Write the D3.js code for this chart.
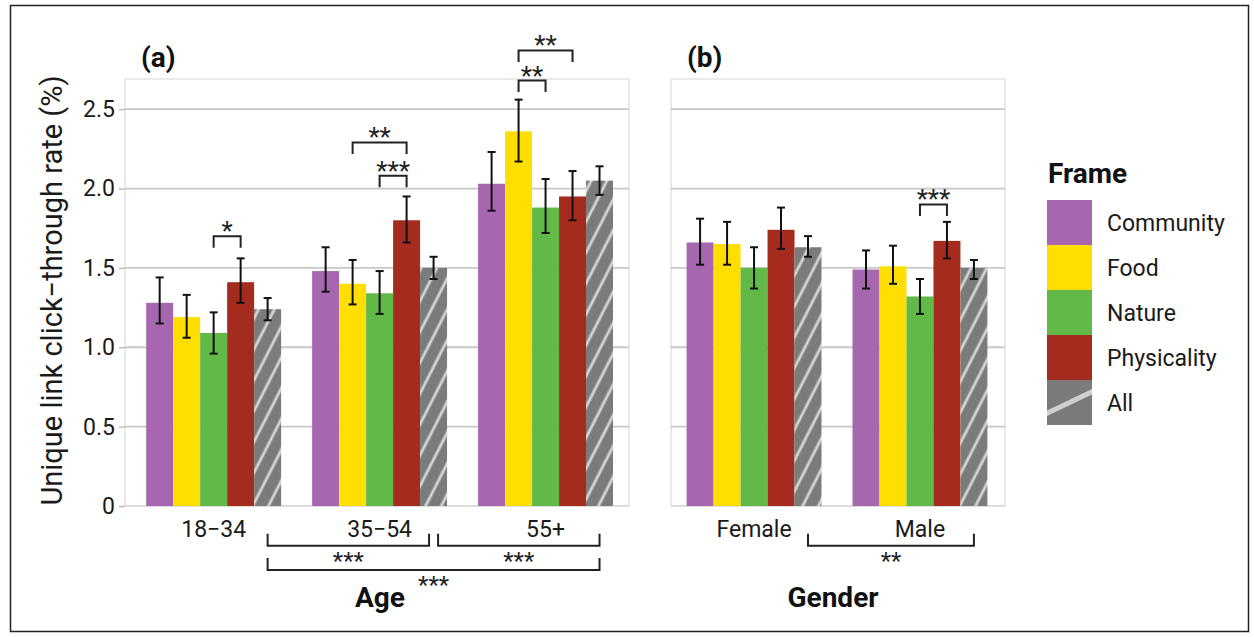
<!DOCTYPE html>
<html><head><meta charset="utf-8">
<script src="https://cdn.jsdelivr.net/npm/d3@7"></script>
<style>
body{margin:0;background:#fff;}
svg{display:block;font-family:Roboto,"Noto Sans",sans-serif;}
</style></head><body>
<svg id="chart" width="1254" height="637"></svg>
<script>
// ---- data ----
const frames = ["Community", "Food", "Nature", "Physicality", "All"];
const frameColors = ["#a667b0", "#ffde00", "#62b947", "#a62b1f", "#7b7b7b"];

const ageGroups = ["18−34", "35−54", "55+"];
const ageMeans = [
  [1.28, 1.19, 1.09, 1.41, 1.24],
  [1.48, 1.40, 1.34, 1.80, 1.50],
  [2.03, 2.36, 1.88, 1.95, 2.05]
];
const ageLower = [
  [1.15, 1.06, 0.96, 1.28, 1.17],
  [1.35, 1.27, 1.21, 1.66, 1.43],
  [1.86, 2.17, 1.72, 1.80, 1.96]
];
const ageUpper = [
  [1.44, 1.33, 1.22, 1.56, 1.31],
  [1.63, 1.55, 1.48, 1.95, 1.57],
  [2.23, 2.56, 2.06, 2.11, 2.14]
];

const genderGroups = ["Female", "Male"];
const genderMeans = [
  [1.66, 1.65, 1.50, 1.74, 1.63],
  [1.49, 1.51, 1.32, 1.67, 1.50]
];
const genderLower = [
  [1.52, 1.52, 1.37, 1.62, 1.57],
  [1.37, 1.40, 1.21, 1.56, 1.43]
];
const genderUpper = [
  [1.81, 1.79, 1.63, 1.88, 1.70],
  [1.61, 1.64, 1.43, 1.79, 1.55]
];

const yTicks = [0, 0.5, 1.0, 1.5, 2.0, 2.5];

// pairwise frame comparisons inside a group
const ageBrackets = [
  {group: "18−34", from: "Nature", to: "Physicality", level: 1.70, label: "*"},
  {group: "35−54", from: "Food", to: "Physicality", level: 2.29, label: "**"},
  {group: "35−54", from: "Nature", to: "Physicality", level: 2.08, label: "***"},
  {group: "55+", from: "Food", to: "Nature", level: 2.68, label: "**"},
  {group: "55+", from: "Food", to: "Physicality", level: 2.87, label: "**"}
];
const genderBrackets = [
  {group: "Male", from: "Nature", to: "Physicality", level: 1.90, label: "***"}
];
// comparisons between groups (drawn under the axis)
const ageGroupBrackets = [
  {from: "18−34", to: "35−54", row: 0, label: "***"},
  {from: "35−54", to: "55+", row: 0, label: "***"},
  {from: "18−34", to: "55+", row: 1, label: "***"}
];
const genderGroupBrackets = [
  {from: "Female", to: "Male", row: 0, label: "**"}
];

// ---- layout ----
const svg = d3.select("#chart");
const plotTop = 79, plotBottom = 506;
const y = d3.scaleLinear().domain([0, 2.69]).range([plotBottom, plotTop]);
const color = d3.scaleOrdinal().domain(frames).range(frameColors);

const defs = svg.append("defs");
const pat = defs.append("pattern").attr("id", "stripes")
  .attr("patternUnits", "userSpaceOnUse").attr("width", 14).attr("height", 14)
  .attr("patternTransform", "rotate(27)");
pat.append("rect").attr("width", 14).attr("height", 14).attr("fill", "#7b7b7b");
pat.append("rect").attr("x", 5.5).attr("width", 2.8).attr("height", 14).attr("fill", "#d4d4d4");

// outer frame
svg.append("rect").attr("x", 10.5).attr("y", 5.5).attr("width", 1238).attr("height", 626)
  .attr("fill", "none").attr("stroke", "#222").attr("stroke-width", 1.5);

function fillFor(f) { return f === "All" ? "url(#stripes)" : color(f); }

function panel(opts) {
  const {x0, x1, groups, means, lower, upper, brackets, groupBrackets, tag, title, pOuter, align, yAxis} = opts;
  const x = d3.scaleBand().domain(groups).range([x0, x1])
    .paddingInner(0.187).paddingOuter(pOuter).align(align);
  const xi = d3.scaleBand().domain(frames).range([0, x.bandwidth()]);
  const g = svg.append("g");

  // background border & grid
  g.append("rect").attr("x", x0).attr("y", plotTop).attr("width", x1 - x0).attr("height", plotBottom - plotTop)
    .attr("fill", "#fff").attr("stroke", "#dcdcdc").attr("stroke-width", 1.2);
  g.selectAll("line.grid").data(yTicks.filter(d => d > 0)).join("line").attr("class", "grid")
    .attr("x1", x0).attr("x2", x1).attr("y1", d => y(d)).attr("y2", d => y(d))
    .attr("stroke", "#c8c8c8").attr("stroke-width", 1.8);
  g.append("line").attr("x1", x0).attr("x2", x1).attr("y1", plotBottom).attr("y2", plotBottom)
    .attr("stroke", "#d0d0d0").attr("stroke-width", 1.2);

  if (yAxis) {
    const ax = g.append("g").attr("transform", `translate(${x0},0)`)
      .call(d3.axisLeft(y).tickValues(yTicks).tickSize(6).tickPadding(4)
        .tickFormat(d => d === 0 ? "0" : d3.format(".1f")(d)));
    ax.select(".domain").remove();
    ax.selectAll(".tick line").attr("stroke", "#bdbdbd").attr("stroke-width", 1.5);
    ax.selectAll(".tick text").attr("font-size", 23).attr("fill", "#1a1a1a")
      .attr("font-family", "Roboto, sans-serif");
  }

  const rows = [];
  groups.forEach((grp, gi) => frames.forEach((f, fi) => rows.push({
    grp, f, m: means[gi][fi], lo: lower[gi][fi], hi: upper[gi][fi]
  })));
  const cx = d => x(d.grp) + xi(d.f) + xi.bandwidth() / 2;

  g.selectAll("rect.bar").data(rows).join("rect").attr("class", "bar")
    .attr("x", d => x(d.grp) + xi(d.f)).attr("width", xi.bandwidth())
    .attr("y", d => y(d.m)).attr("height", d => y(0) - y(d.m))
    .attr("fill", d => fillFor(d.f));

  // error bars
  const eb = g.selectAll("g.err").data(rows).join("g").attr("class", "err")
    .attr("stroke", "#111").attr("stroke-width", 2);
  eb.append("line").attr("x1", cx).attr("x2", cx).attr("y1", d => y(d.lo)).attr("y2", d => y(d.hi));
  eb.append("line").attr("x1", d => cx(d) - 4).attr("x2", d => cx(d) + 4).attr("y1", d => y(d.lo)).attr("y2", d => y(d.lo));
  eb.append("line").attr("x1", d => cx(d) - 4).attr("x2", d => cx(d) + 4).attr("y1", d => y(d.hi)).attr("y2", d => y(d.hi));

  // within-group significance brackets
  brackets.forEach(b => {
    const xa = x(b.group) + xi(b.from) + xi.bandwidth() / 2;
    const xb = x(b.group) + xi(b.to) + xi.bandwidth() / 2;
    const yy = y(b.level);
    g.append("path").attr("d", `M${xa},${yy + 11.5}V${yy}H${xb}V${yy + 11.5}`)
      .attr("fill", "none").attr("stroke", "#222").attr("stroke-width", 2);
    g.append("text").attr("x", (xa + xb) / 2).attr("y", yy + 4).attr("text-anchor", "middle")
      .attr("font-size", 26).attr("fill", "#222").text(b.label);
  });

  // x tick labels
  g.selectAll("text.xt").data(groups).join("text").attr("class", "xt")
    .attr("x", d => x(d) + x.bandwidth() / 2).attr("y", 537).attr("text-anchor", "middle")
    .attr("font-size", 23).attr("fill", "#1a1a1a").text(d => d);

  // between-group brackets under the axis
  const allC = grp => x(grp) + xi("All") + xi.bandwidth() / 2;
  const rowY = [545.7, 570];
  groupBrackets.forEach(b => {
    let xa = allC(b.from), xb = allC(b.to);
    if (groupBrackets.some(o => o !== b && o.row === b.row && o.from === b.to)) xb -= 4.5;
    if (groupBrackets.some(o => o !== b && o.row === b.row && o.to === b.from)) xa += 4.5;
    const yy = rowY[b.row];
    g.append("path").attr("d", `M${xa},${yy - 12}V${yy}H${xb}V${yy - 12}`)
      .attr("fill", "none").attr("stroke", "#222").attr("stroke-width", 2);
    g.append("text").attr("x", (xa + xb) / 2).attr("y", yy + 23).attr("text-anchor", "middle")
      .attr("font-size", 24).attr("fill", "#222").text(b.label);
  });

  // panel tag & axis title
  g.append("text").attr("x", x0 + 16).attr("y", 67).attr("font-size", 28).attr("font-weight", "bold")
    .attr("fill", "#111").text(tag);
  g.append("text").attr("x", (x0 + x1) / 2 + opts.titleShift).attr("y", 607).attr("text-anchor", "middle")
    .attr("font-size", 28).attr("font-weight", "bold").attr("fill", "#111").text(title);
}

panel({x0: 125, x1: 629, groups: ageGroups, means: ageMeans, lower: ageLower, upper: ageUpper,
  brackets: ageBrackets, groupBrackets: ageGroupBrackets, tag: "(a)", title: "Age",
  pOuter: 0.112, align: 0.57, yAxis: true, titleShift: 3});
panel({x0: 671, x1: 1005, groups: genderGroups, means: genderMeans, lower: genderLower, upper: genderUpper,
  brackets: genderBrackets, groupBrackets: genderGroupBrackets, tag: "(b)", title: "Gender",
  pOuter: 0.1, align: 0.47, yAxis: false, titleShift: -5});

// y axis title
svg.append("text").attr("transform", `translate(62,${(78 + 503) / 2}) rotate(-90)`)
  .attr("text-anchor", "middle").attr("font-size", 29).attr("fill", "#1a1a1a")
  .text("Unique link click−through rate (%)");

// legend
const lg = svg.append("g").attr("transform", "translate(1047,0)");
lg.append("text").attr("x", 1).attr("y", 182.7).attr("font-size", 28).attr("font-weight", "bold")
  .attr("fill", "#111").text("Frame");
const keyH = 45, keyW = 45, keyTop = 200;
const clip = defs.append("clipPath").attr("id", "keyclip");
clip.append("rect").attr("x", 0).attr("y", keyTop + 4 * keyH).attr("width", keyW).attr("height", keyH);
frames.forEach((f, i) => {
  const ky = keyTop + i * keyH;
  lg.append("rect").attr("x", 0).attr("y", ky).attr("width", keyW).attr("height", keyH)
    .attr("fill", color(f));
  if (f === "All") {
    lg.append("line").attr("clip-path", "url(#keyclip)")
      .attr("x1", -2).attr("y1", ky + keyH * 0.76).attr("x2", keyW + 2).attr("y2", ky + keyH * 0.24)
      .attr("stroke", "#cfcfcf").attr("stroke-width", 5);
  }
  lg.append("text").attr("x", 60).attr("y", ky + keyH / 2).attr("dy", "0.35em")
    .attr("font-size", 23).attr("fill", "#1a1a1a").text(f);
});
</script>
</body></html>
